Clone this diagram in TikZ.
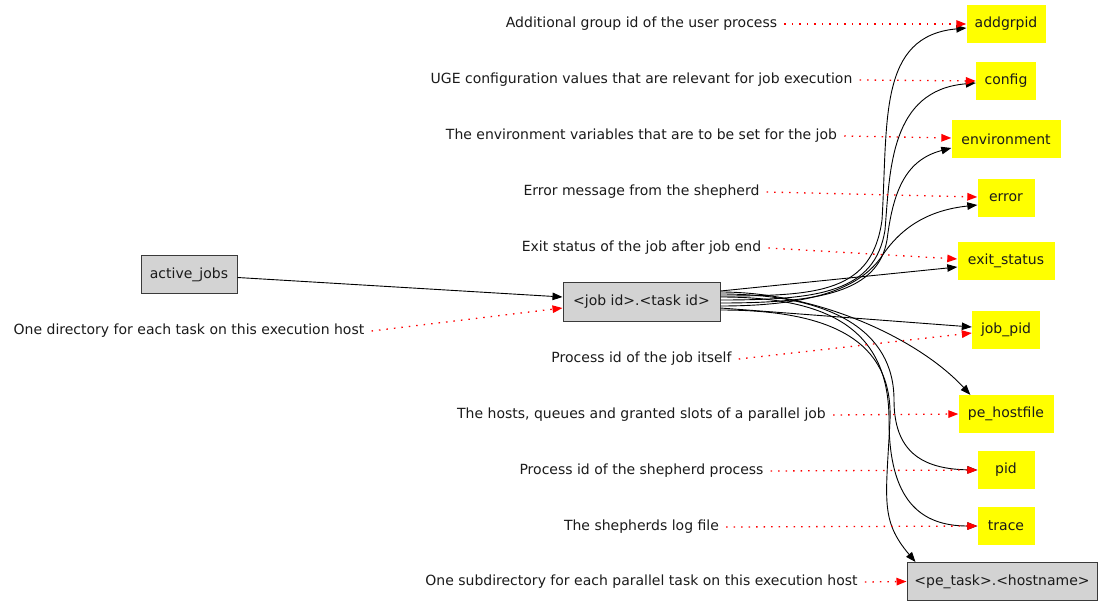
\documentclass[tikz,border=0pt]{standalone}
\usepackage{fontspec}
\setmainfont{DejaVu Sans}
\usetikzlibrary{arrows.meta}
\definecolor{boxgray}{HTML}{D3D3D3}
\definecolor{edgegray}{HTML}{3A3A3A}
\definecolor{fileyellow}{HTML}{FFFF00}
\definecolor{textdark}{HTML}{1A1A1A}
\tikzset{
  dirbox/.style={draw=edgegray, line width=1pt, fill=boxgray, minimum height=38pt, inner sep=0pt, text=textdark, font=\fontsize{14}{16}\selectfont},
  filebox/.style={fill=fileyellow, minimum height=38pt, inner sep=0pt, text=textdark, font=\fontsize{14}{16}\selectfont},
  note/.style={inner xsep=7pt, inner ysep=4pt, text=textdark, font=\fontsize{14}{16}\selectfont},
  link/.style={line width=0.9pt, -{Triangle[length=10pt,width=7.5pt]}},
  remark/.style={red, line width=1.3pt, dash pattern=on 1.5pt off 6pt, -{Triangle[length=10pt,width=7.5pt,fill=red]}}
}
\begin{document}
\begin{tikzpicture}[x=1pt,y=-1pt]
\useasboundingbox (0,0) rectangle (1099,601);

% directories
\node[dirbox, minimum width=157pt] (job)    at (641.5,302) {<job id>.<task id>};
\node[dirbox, minimum width=96pt]  (active) at (189,274.5) {active\_jobs};
\node[dirbox, minimum width=190pt] (petask) at (1002,581.5) {<pe\_task>.<hostname>};

% files
\node[filebox, minimum width=79pt]  (addgrpid) at (1006,24)  {addgrpid};
\node[filebox, minimum width=60pt]  (config)   at (1006,81)  {config};
\node[filebox, minimum width=109pt] (environ)  at (1006,139) {environment};
\node[filebox, minimum width=57pt]  (error)    at (1006,198) {error};
\node[filebox, minimum width=97pt]  (exit)     at (1006,261) {exit\_status};
\node[filebox, minimum width=68pt]  (jobpid)   at (1006,330) {job\_pid};
\node[filebox, minimum width=95pt]  (pehost)   at (1006,414) {pe\_hostfile};
\node[filebox, minimum width=57pt]  (pid)      at (1006,470) {pid};
\node[filebox, minimum width=57pt]  (trace)    at (1006,526) {trace};

% descriptions
\node[note] (d-addgrpid) at (641.5,24)  {Additional group id of the user process};
\node[note] (d-config)   at (641.5,80)  {UGE configuration values that are relevant for job execution};
\node[note] (d-environ)  at (641.5,136) {The environment variables that are to be set for the job};
\node[note] (d-error)    at (641.5,192) {Error message from the shepherd};
\node[note] (d-exit)     at (641.5,248) {Exit status of the job after job end};
\node[note] (d-job)      at (189,331)   {One directory for each task on this execution host};
\node[note] (d-jobpid)   at (641.5,359) {Process id of the job itself};
\node[note] (d-pehost)   at (641.5,415) {The hosts, queues and granted slots of a parallel job};
\node[note] (d-pid)      at (641.5,471) {Process id of the shepherd process};
\node[note] (d-trace)    at (641.5,527) {The shepherds log file};
\node[note] (d-petask)   at (641.5,582) {One subdirectory for each parallel task on this execution host};

% tree edges
\draw[link] (active.east) ++(0,3) -- ([yshift=5pt]job.west);
\draw[link] ([yshift=6pt]job.east) .. controls (820,296) and (872,292) .. (882,220)
  .. controls (888,120) and (878,36) .. ([yshift=-4pt]addgrpid.west);
\draw[link] ([yshift=2pt]job.east) .. controls (820,300) and (875,292) .. (885,230)
  .. controls (890,170) and (890,90) .. ([yshift=-2pt]config.west);
\draw[link] ([yshift=-1pt]job.east) .. controls (820,303) and (878,292) .. (887,240)
  .. controls (893,192) and (905,160) .. ([yshift=-9pt]environ.west);
\draw[link] ([yshift=-4pt]job.east) .. controls (820,306) and (862,285) .. (882,256)
  .. controls (902,226) and (930,210) .. ([yshift=-7pt]error.west);
\draw[link] ([yshift=11pt]job.east) -- ([yshift=-6pt]exit.west);
\draw[link] ([yshift=-6pt]job.east) -- ([yshift=3pt]jobpid.west);
\draw[link] ([yshift=10pt]job.east) .. controls (820,292) and (920,340) .. ([xshift=12pt]pehost.north west);
\draw[link] ([yshift=8pt]job.east) .. controls (830,294) and (894,330) .. (894,400)
  .. controls (894,450) and (920,469) .. (pid.west);
\draw[link] ([yshift=5pt]job.east) .. controls (830,297) and (889,330) .. (889,420)
  .. controls (889,500) and (920,526) .. (trace.west);
\draw[link] ([yshift=-8pt]job.east) .. controls (830,310) and (893,340) .. (890,420)
  .. controls (886,500) and (880,520) .. ([xshift=9pt]petask.north west);

% description pointers
\draw[remark] (d-addgrpid.east) -- (addgrpid.west);
\draw[remark] (d-config.east)   -- (config.west);
\draw[remark] (d-environ.east)  -- ([yshift=1pt]environ.west);
\draw[remark] (d-error.east)    -- ([yshift=1pt]error.west);
\draw[remark] (d-exit.east)     -- ([yshift=2pt]exit.west);
\draw[remark] (d-job.east)      -- ([yshift=-6pt]job.west);
\draw[remark] (d-jobpid.east)   -- ([yshift=-3pt]jobpid.west);
\draw[remark] (d-pehost.east)   -- (pehost.west);
\draw[remark] (d-pid.east)      -- (pid.west);
\draw[remark] (d-trace.east)    -- (trace.west);
\draw[remark] (d-petask.east)   -- (petask.west);
\end{tikzpicture}
\end{document}
